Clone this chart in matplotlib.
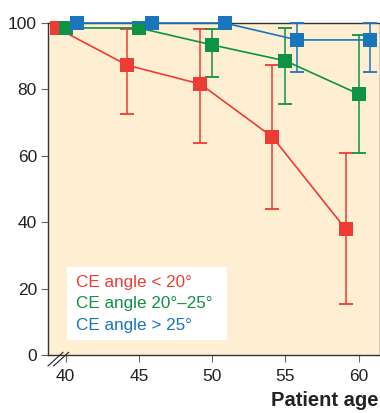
import matplotlib
matplotlib.use("Agg")
import matplotlib.pyplot as plt
from matplotlib.lines import Line2D
from matplotlib.patches import Rectangle

plt.rcParams['font.family'] = ['Liberation Sans', 'DejaVu Sans']

# Data
red_x = [39.4, 44.2, 49.2, 54.1, 59.1]
red_y = [98.5, 87.3, 81.6, 65.7, 38.0]
red_hi = [None, 98.2, 98.2, 87.3, 60.8]
red_lo = [None, 72.6, 63.9, 44.0, 15.4]

green_x = [40.0, 45.0, 50.0, 55.0, 60.0]
green_y = [98.5, 98.5, 93.4, 88.6, 78.6]
green_hi = [None, None, 98.2, 98.5, 96.4]
green_lo = [None, None, 83.7, 75.6, 60.8]

blue_x = [40.75, 45.9, 50.85, 55.8, 60.8]
blue_y = [100, 100, 100, 94.9, 94.9]
blue_hi = [None, None, None, 100, 100]
blue_lo = [None, None, None, 85.2, 85.2]

labels = ["CE angle < 20°", "CE angle 20°–25°", "CE angle > 25°"]
colors = ["#EE3B33", "#0E9245", "#1A75BC"]
xticks = [40, 45, 50, 55, 60]
yticks = [0, 20, 40, 60, 80, 100]

fig = plt.figure(figsize=(3.8, 4.13), dpi=100)
ax = fig.add_axes([48/380, 1-355/413, 1-48/380, (355-23)/413])
ax.set_facecolor("#FEEFD3")
ax.set_xlim(38.8, 61.45)
ax.set_ylim(0, 100)

series = [(red_x, red_y, red_hi, red_lo), (green_x, green_y, green_hi, green_lo),
          (blue_x, blue_y, blue_hi, blue_lo)]
for (xs, ys, hi, lo), c in zip(series, colors):
    for x, y, h, l in zip(xs, ys, hi, lo):
        if h is None:
            continue
        ax.errorbar([x], [y], yerr=[[y - l], [h - y]], fmt='none', ecolor=c,
                    elinewidth=1.1, capsize=5, capthick=1.3, clip_on=False, zorder=3)
    ax.plot(xs, ys, color=c, lw=1.2, marker='s', markersize=9.5,
            markeredgewidth=0, clip_on=False, zorder=4)

ax.set_xticks(xticks)
ax.set_yticks(yticks)
ax.tick_params(axis='both', length=5, width=0.8, color='#666666', labelsize=12.5,
               labelcolor='#222222')
ax.tick_params(axis='x', pad=5)
ax.tick_params(axis='y', pad=3)
for s in ax.spines.values():
    s.set_linewidth(1.0)
    s.set_color('#333333')

# axis break mark on the bottom spine
for dx in (0.0, 0.017):
    ax.add_line(Line2D([0.0 + dx, 0.045 + dx], [-0.033, 0.008], transform=ax.transAxes,
                       color='#222222', lw=0.8, clip_on=False, zorder=6))

# legend box
ax.add_patch(Rectangle((0.058, 0.045), 0.48, 0.22, transform=ax.transAxes,
                       facecolor='white', edgecolor='none', zorder=5))
for i, (lab, c) in enumerate(zip(labels, colors)):
    ax.text(0.083, 0.218 - i * 0.064, lab, transform=ax.transAxes, color=c,
            fontsize=12.3, va='center', ha='left', zorder=6)

fig.text(0.997, 0.008, "Patient age", ha='right', va='bottom', fontsize=14.5,
         fontweight='bold', color='#222222')

fig.savefig("out.png", dpi=100)
